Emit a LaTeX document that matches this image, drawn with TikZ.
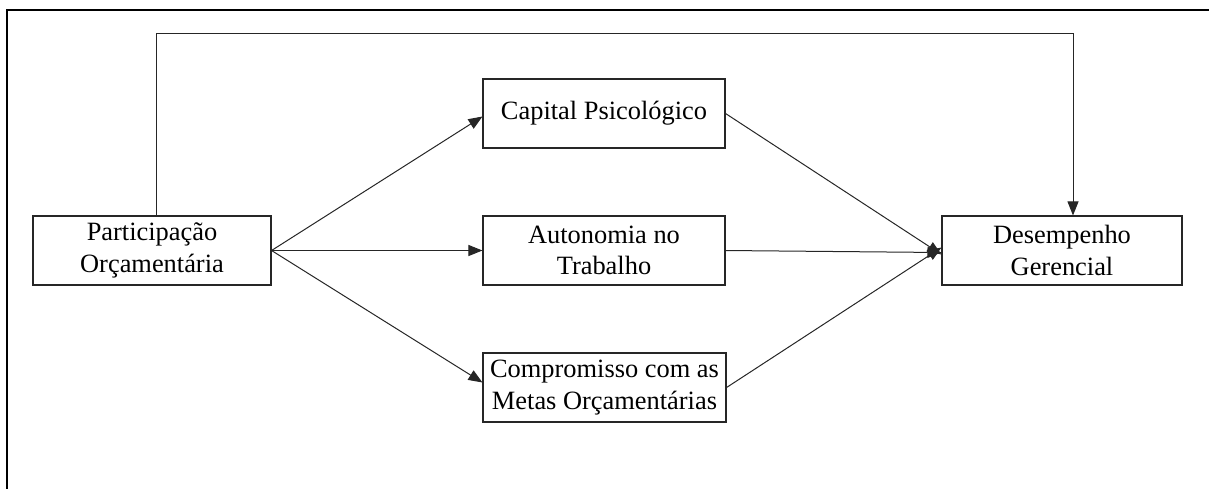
\documentclass[tikz,border=0pt]{standalone}
\usepackage{fontspec}
\setmainfont{Liberation Serif}
\usetikzlibrary{arrows.meta}
\begin{document}
\begin{tikzpicture}[x=1pt,y=-1pt,
  boxnode/.style={draw=black!85, line width=1.1pt, minimum height=69pt, align=center, inner sep=0pt,
    font=\fontsize{26.4}{31.7}\selectfont},
  conn/.style={draw=black!85, line width=1pt, -{Triangle[length=14pt,width=11pt]}},
  plain/.style={draw=black!85, line width=1pt}]
\useasboundingbox (0,0) rectangle (1209,488);
\clip (0,0) rectangle (1209,488);
\draw[line width=2.5pt] (7,520) -- (7,10) -- (1230,10);
\node[boxnode, minimum width=238pt] (P) at (152,250.5) {Participação\\Orçamentária};
\node[boxnode, minimum width=242pt] (C) at (604,113.5) {Capital Psicológico};
\node[boxnode, minimum width=242pt] (A) at (604,250.5) {Autonomia no\\Trabalho};
\node[boxnode, minimum width=243pt] (M) at (604.5,387.5) {Compromisso com as\\Metas Orçamentárias};
\node[boxnode, minimum width=240pt] (D) at (1062,250.5) {Desempenho\\Gerencial};
\draw[conn] (P.east) -- ([yshift=-3pt]C.west);
\draw[conn] (P.east) -- (A.west);
\draw[conn] (P.east) -- ([yshift=5pt]M.west);
\draw[conn] (C.east) -- ([yshift=-4pt]D.west);
\draw[conn] (A.east) -- ([yshift=-2pt]D.west);
\draw[conn] (M.east) -- ([yshift=3pt]D.west);
\draw[conn] ([xshift=4pt]P.north) -- ++(0,-182) -| ([xshift=11pt]D.north);
\end{tikzpicture}
\end{document}
